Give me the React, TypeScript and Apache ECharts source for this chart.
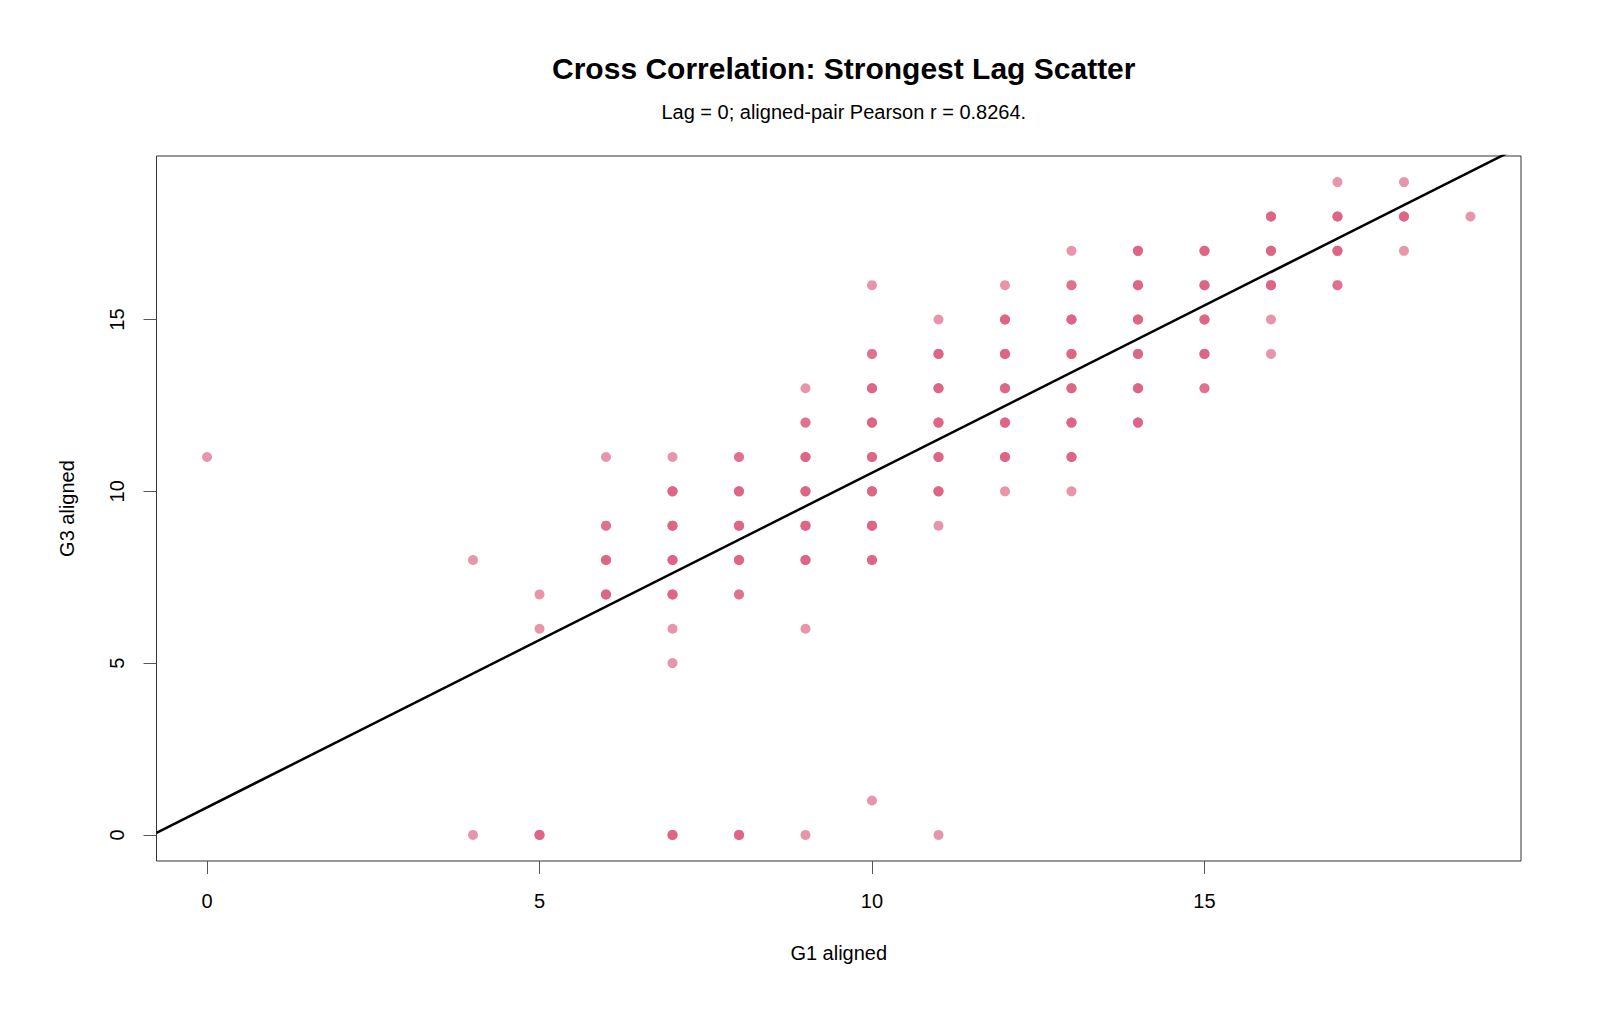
import React, { useEffect, useRef } from "react";
import * as echarts from "echarts";

// Aligned (G1, G3) pairs; pairCount is how many observations share the pair.
const pairG1 = [
  0,
  4, 4,
  5, 5, 5,
  6, 6, 6, 6,
  7, 7, 7, 7, 7, 7, 7, 7,
  8, 8, 8, 8, 8, 8,
  9, 9, 9, 9, 9, 9, 9, 9,
  10, 10, 10, 10, 10, 10, 10, 10, 10,
  11, 11, 11, 11, 11, 11, 11, 11,
  12, 12, 12, 12, 12, 12, 12,
  13, 13, 13, 13, 13, 13, 13, 13,
  14, 14, 14, 14, 14, 14,
  15, 15, 15, 15, 15,
  16, 16, 16, 16, 16,
  17, 17, 17, 17,
  18, 18, 18,
  19,
];
const pairG3 = [
  11,
  8, 0,
  7, 6, 0,
  11, 9, 8, 7,
  11, 10, 9, 8, 7, 6, 5, 0,
  11, 10, 9, 8, 7, 0,
  13, 12, 11, 10, 9, 8, 6, 0,
  16, 14, 13, 12, 11, 10, 9, 8, 1,
  15, 14, 13, 12, 11, 10, 9, 0,
  16, 15, 14, 13, 12, 11, 10,
  17, 16, 15, 14, 13, 12, 11, 10,
  17, 16, 15, 14, 13, 12,
  17, 16, 15, 14, 13,
  18, 17, 16, 15, 14,
  19, 18, 17, 16,
  19, 18, 17,
  18,
];
const pairCount = [
  1,
  1, 1,
  1, 1, 3,
  1, 2, 3, 3,
  1, 3, 3, 3, 3, 1, 1, 3,
  2, 3, 3, 3, 2, 3,
  1, 2, 3, 3, 3, 3, 1, 1,
  1, 2, 3, 3, 3, 3, 3, 3, 1,
  1, 3, 3, 3, 3, 3, 1, 1,
  1, 3, 3, 3, 3, 3, 1,
  1, 2, 3, 3, 3, 3, 3, 1,
  3, 3, 3, 3, 3, 3,
  3, 3, 3, 3, 2,
  3, 3, 3, 1, 1,
  1, 3, 3, 2,
  1, 3, 1,
  1,
];

// Least-squares fit line of G3 on G1
const fitIntercept = 0.8;
const fitSlope = 0.974;

const axisLimits = [-0.76, 19.76];
const tickValues = [0, 5, 10, 15];

const titleText = "Cross Correlation: Strongest Lag Scatter";
const subtitleText = "Lag = 0; aligned-pair Pearson r = 0.8264.";
const xName = "G1 aligned";
const yName = "G3 aligned";

const FONT = "'Liberation Sans', Arial, Helvetica, sans-serif";

export default function App() {
  const ref = useRef<HTMLDivElement>(null);

  useEffect(() => {
    if (!ref.current) return;
    const chart = echarts.init(ref.current, null, { renderer: "svg" });

    const points: number[][] = [];
    pairG1.forEach((x, i) => {
      for (let k = 0; k < pairCount[i]; k++) points.push([x, pairG3[i]]);
    });

    const fitData = axisLimits.map((x) => [x, fitIntercept + fitSlope * x]);

    const gridLeft = 156.5;
    const gridTop = 156;
    const gridRight = 1521;
    const gridBottom = 861;
    const centerX = (gridLeft + gridRight) / 2;

    const tickStyle = {
      show: true,
      customValues: tickValues,
      length: 13,
      lineStyle: { color: "#555", width: 1 },
    };

    chart.setOption({
      animation: false,
      backgroundColor: "#ffffff",
      title: [
        {
          text: titleText,
          left: centerX,
          top: 48,
          textAlign: "center",
          textStyle: { fontFamily: FONT, fontSize: 30, fontWeight: "bold", color: "#000" },
        },
        {
          text: subtitleText,
          left: centerX,
          top: 97,
          textAlign: "center",
          textStyle: { fontFamily: FONT, fontSize: 20, fontWeight: "normal", color: "#000" },
        },
      ],
      grid: {
        left: gridLeft,
        top: gridTop,
        width: gridRight - gridLeft,
        height: gridBottom - gridTop,
        show: true,
        borderColor: "#333",
        borderWidth: 1,
        backgroundColor: "transparent",
      },
      xAxis: {
        type: "value",
        position: "bottom",
        min: axisLimits[0],
        max: axisLimits[1],
        name: xName,
        nameLocation: "middle",
        nameGap: 82,
        nameTextStyle: { fontFamily: FONT, fontSize: 20, color: "#000" },
        axisLine: { show: false, onZero: false },
        splitLine: { show: false },
        axisTick: tickStyle,
        axisLabel: {
          customValues: tickValues,
          margin: 30,
          fontFamily: FONT,
          fontSize: 20,
          color: "#000",
        },
      },
      yAxis: {
        type: "value",
        position: "left",
        min: axisLimits[0],
        max: axisLimits[1],
        name: yName,
        nameLocation: "middle",
        nameGap: 80,
        nameTextStyle: { fontFamily: FONT, fontSize: 20, color: "#000" },
        axisLine: { show: false, onZero: false },
        splitLine: { show: false },
        axisTick: tickStyle,
        axisLabel: {
          customValues: tickValues,
          rotate: 90,
          margin: 30,
          fontFamily: FONT,
          fontSize: 20,
          color: "#000",
        },
      },
      series: [
        {
          type: "scatter",
          data: points,
          symbol: "circle",
          symbolSize: 10,
          itemStyle: { color: "rgb(220,96,128)", opacity: 0.67 },
          silent: true,
        },
        {
          type: "line",
          data: fitData,
          showSymbol: false,
          clip: true,
          lineStyle: { color: "#000", width: 2.5 },
          silent: true,
        },
      ],
    });

    return () => chart.dispose();
  }, []);

  return (
    <div
      ref={ref}
      style={{ position: "absolute", left: 0, top: 0, width: 1600, height: 1018 }}
    />
  );
}
